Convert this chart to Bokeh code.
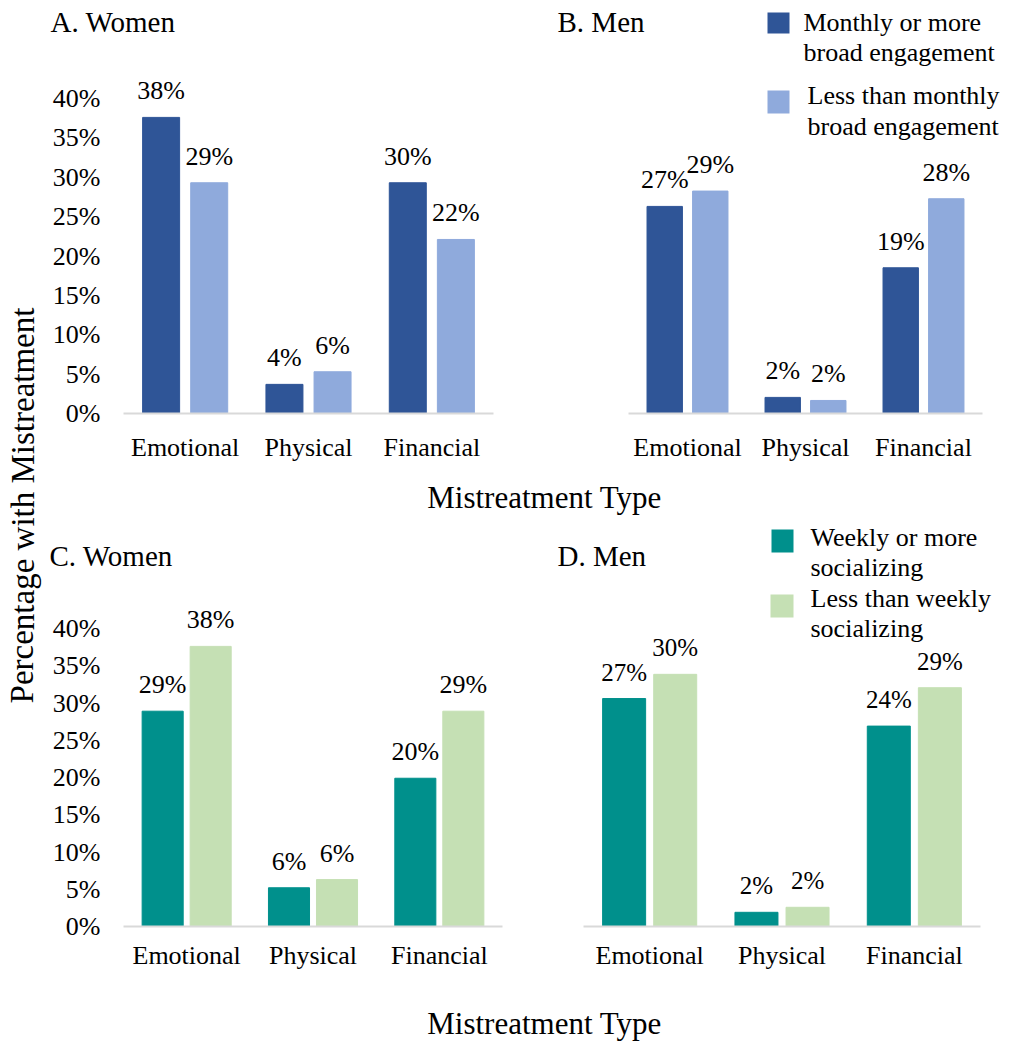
from bokeh.plotting import figure
from bokeh.models import (ColumnDataSource, Range1d, FixedTicker, PrintfTickFormatter,
                          LabelSet, Label, BoxAnnotation, Title)
from bokeh.layouts import row, column
from bokeh.core.properties import value
from bokeh.embed import file_html
from bokeh.resources import INLINE

# ---------------- data ----------------
categories = ["Emotional", "Physical", "Financial"]
y_ticks = [0, 5, 10, 15, 20, 25, 30, 35, 40]

series_ab = ["Monthly or more\nbroad engagement", "Less than monthly\nbroad engagement"]
series_cd = ["Weekly or more\nsocializing", "Less than weekly\nsocializing"]

# A. Women (broad engagement)
a_monthly = [37.6, 3.7, 29.3]
a_less = [29.3, 5.3, 22.1]
a_monthly_lbl = ["38%", "4%", "30%"]
a_less_lbl = ["29%", "6%", "22%"]

# B. Men (broad engagement)
b_monthly = [27.0, 2.1, 19.0]
b_less = [29.0, 1.7, 28.0]
b_monthly_lbl = ["27%", "2%", "19%"]
b_less_lbl = ["29%", "2%", "28%"]

# C. Women (socializing)
c_weekly = [28.9, 5.2, 19.9]
c_less = [37.6, 6.3, 28.9]
c_weekly_lbl = ["29%", "6%", "20%"]
c_less_lbl = ["38%", "6%", "29%"]

# D. Men (socializing)
d_weekly = [27.3, 1.7, 24.0]
d_less = [30.2, 2.3, 28.6]
d_weekly_lbl = ["27%", "2%", "24%"]
d_less_lbl = ["30%", "2%", "29%"]

FONT = "Liberation Serif"
DARK_BLUE, LIGHT_BLUE = "#2F5597", "#8FAADC"
TEAL, LIGHT_GREEN = "#00908C", "#C5E0B4"

xpos = [i + 0.5 for i in range(len(categories))]


def panel(v1, v2, l1, l2, c1, c2, W, H, bl, br, bt, bb, x_rng, y_end, show_y,
          std_x, off, bw, dl_size, top_title=None, title=None, legend=None):
    p = figure(x_range=Range1d(*x_rng), y_range=Range1d(0, y_end), width=W, height=H,
               min_border_left=bl, min_border_right=br, min_border_top=bt,
               min_border_bottom=bb, toolbar_location=None, output_backend="svg",
               outline_line_color=None,
               y_axis_location="left" if show_y else None)
    src = ColumnDataSource(dict(
        x1=[x - off for x in xpos], x2=[x + off for x in xpos],
        v1=v1, v2=v2, l1=l1, l2=l2))
    p.vbar(x="x1", top="v1", width=bw, source=src, fill_color=c1, line_color=c1, line_width=1)
    p.vbar(x="x2", top="v2", width=bw, source=src, fill_color=c2, line_color=c2, line_width=1)
    for xs, ys, ts in (("x1", "v1", "l1"), ("x2", "v2", "l2")):
        p.add_layout(LabelSet(x=xs, y=ys, text=ts, source=src, text_align="center",
                              text_baseline="alphabetic", y_offset=18,
                              text_font=value(FONT), text_font_size=dl_size,
                              text_color="black"))
    p.xgrid.visible = False
    p.ygrid.visible = False
    xa = p.xaxis[0]
    xa.ticker = FixedTicker(ticks=xpos)
    xa.major_label_overrides = {x: c for x, c in zip(xpos, categories)}
    xa.bounds = (0, len(categories))
    xa.axis_line_color = "#D9D9D9"
    xa.axis_line_width = 2
    xa.major_tick_line_color = None
    xa.minor_tick_line_color = None
    xa.major_tick_out = 0
    xa.major_tick_in = 0
    xa.minor_tick_out = 0
    xa.minor_tick_in = 0
    xa.major_label_standoff = std_x
    xa.major_label_text_font = FONT
    xa.major_label_text_font_size = "26px"
    xa.major_label_text_color = "black"
    if show_y:
        ya = p.yaxis[0]
        ya.ticker = FixedTicker(ticks=y_ticks)
        ya.formatter = PrintfTickFormatter(format="%d%%")
        ya.axis_line_color = None
        ya.major_tick_line_color = None
        ya.minor_tick_line_color = None
        ya.major_tick_out = 0
        ya.major_tick_in = 0
        ya.minor_tick_out = 0
        ya.minor_tick_in = 0
        ya.major_label_standoff = 23
        ya.major_label_text_font = FONT
        ya.major_label_text_font_size = "26px"
        ya.major_label_text_color = "black"
    if top_title is not None:
        text, offset = top_title
        p.add_layout(Title(text=text, align="left", offset=offset, standoff=0,
                           vertical_align="bottom", text_font=FONT,
                           text_font_size="29px", text_font_style="normal",
                           text_color="black"), "above")
    if title is not None:
        text, tx, ty = title
        p.add_layout(Label(x=tx, y=ty, x_units="screen", y_units="screen", text=text,
                           text_font=FONT, text_font_size="29px", text_color="black",
                           text_baseline="middle", text_align="left"))
    if legend is not None:
        names, colors, boxes, texts = legend
        for name, col, (bx0, bx1, by0, by1), (lx, ly) in zip(names, colors, boxes, texts):
            p.add_layout(BoxAnnotation(left=bx0, right=bx1, bottom=by0, top=by1,
                                       left_units="screen", right_units="screen",
                                       bottom_units="screen", top_units="screen",
                                       fill_color=col, fill_alpha=1.0, line_color=None))
            p.add_layout(Label(x=lx, y=ly, x_units="screen", y_units="screen", text=name,
                               text_font=FONT, text_font_size="26px", text_color="black",
                               text_line_height=1.04, text_baseline="middle",
                               text_align="left"))
    return p


def text_fig(W, H, text, x, y, size="31px", angle=0.0, align="center"):
    p = figure(width=W, height=H, x_range=Range1d(0, 1), y_range=Range1d(0, 1),
               toolbar_location=None, output_backend="svg", x_axis_location=None,
               y_axis_location=None, min_border=0, outline_line_color=None)
    p.xgrid.visible = False
    p.ygrid.visible = False
    p.add_layout(Label(x=x, y=y, x_units="screen", y_units="screen", text=text,
                       angle=angle, text_font=FONT, text_font_size=size,
                       text_color="black", text_align=align, text_baseline="middle"))
    return p


pA = panel(a_monthly, a_less, a_monthly_lbl, a_less_lbl, DARK_BLUE, LIGHT_BLUE,
           480, 468, 75, 35, 37, 55, (0, 3), 376 / 7.875, True, 19, 0.195, 0.30, "26px",
           top_title=("A. Women", -73))
pB = panel(b_monthly, b_less, b_monthly_lbl, b_less_lbl, DARK_BLUE, LIGHT_BLUE,
           480, 468, 0, 0, 0, 55, (-100 / 118, 3 + 26 / 118), 413 / 7.67, False, 19,
           0.193, 0.30, "26px", title=("B. Men", 29, 391.8),
           legend=(series_ab, [DARK_BLUE, LIGHT_BLUE],
                   [(239, 261, 380, 401), (239, 261, 300, 323)],
                   [(275, 376), (279, 302.5)]))
pC = panel(c_weekly, c_less, c_weekly_lbl, c_less_lbl, TEAL, LIGHT_GREEN,
           480, 470, 75, 26, 53, 62, (0, 3), 355 / 7.45, True, 14, 0.19, 0.325, "26px",
           top_title=("C. Women", -74))
pD = panel(d_weekly, d_less, d_weekly_lbl, d_less_lbl, TEAL, LIGHT_GREEN,
           480, 470, 0, 0, 0, 62, (-55 / 132.33, 3 + 28 / 132.33), 408 / 8.35, False, 14,
           0.193, 0.325, "25px", title=("D. Men", 29, 370.8),
           legend=(series_cd, [TEAL, LIGHT_GREEN],
                   [(243, 265, 374, 397), (242, 265, 309, 332)],
                   [(282, 374), (282, 313)]))

xt1 = text_fig(960, 50, "Mistreatment Type", 496, 21.1)
xt2 = text_fig(960, 60, "Mistreatment Type", 496, 25.1)
yt = text_fig(48, 1048, "Percentage with Mistreatment", 22, 543, size="33px", angle=1.5707963)

layout = row(yt, column(row(column(pA), pB), xt1, row(column(pC), pD), xt2))

open("out.html", "w").write(file_html(layout, INLINE))
